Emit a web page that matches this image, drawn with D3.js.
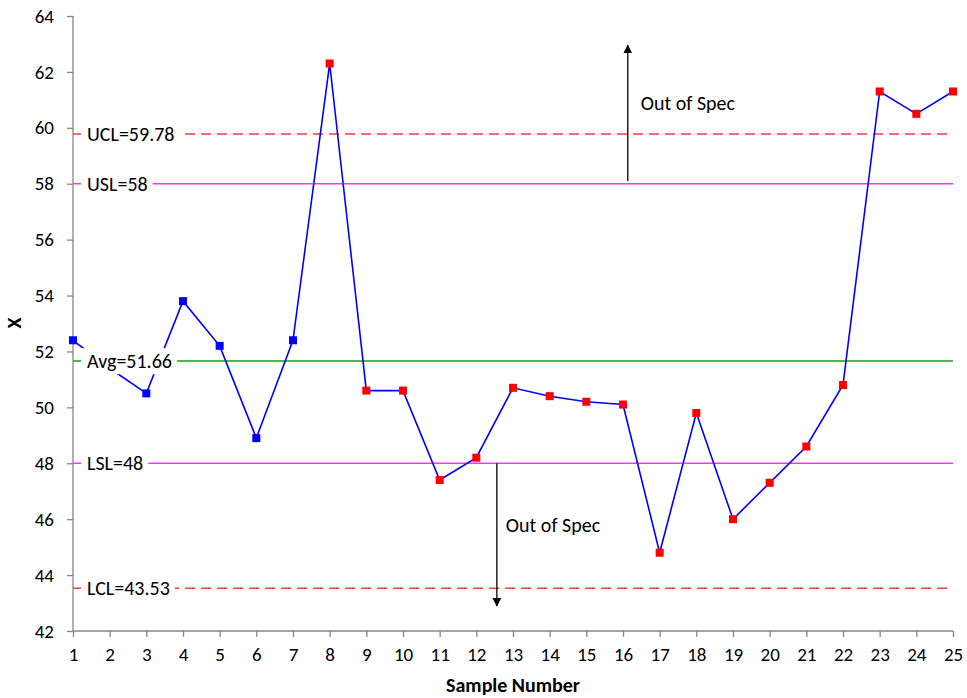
<!DOCTYPE html>
<html><head><meta charset="utf-8">
<script src="https://cdn.jsdelivr.net/npm/d3@7"></script>
<style>
body{margin:0;background:#fff;}
svg text{font-family:Carlito,Lato,"Open Sans",sans-serif;}
</style></head>
<body><svg id="c" width="967" height="698"></svg>
<script>
const samples = d3.range(1, 26);
const values = [52.4, 51.4, 50.5, 53.8, 52.2, 48.9, 52.4, 62.3, 50.6, 50.6, 47.4, 48.2, 50.7, 50.4, 50.2, 50.1, 44.8, 49.8, 46.0, 47.3, 48.6, 50.8, 61.3, 60.5, 61.3];
const pointColors = ["blue","blue","blue","blue","blue","blue","blue","red","red","red","red","red","red","red","red","red","red","red","red","red","red","red","red","red","red"];
const yTicks = [42,44,46,48,50,52,54,56,58,60,62,64];
const limitNames = ["UCL=59.78","USL=58","Avg=51.66","LSL=48","LCL=43.53"];
const limitValues = [59.78, 58, 51.66, 48, 43.53];
const limitKinds = ["ctl","spec","avg","spec","ctl"];
const arrowX = [16.13, 12.56];
const arrowFrom = [58.1, 48];
const arrowTo = [62.95, 42.9];
const arrowText = ["Out of Spec","Out of Spec"];

const svg = d3.select("#c");
const x = d3.scaleLinear().domain([1,25]).range([73,953]);
const y = d3.scaleLinear().domain([42,64]).range([631,16]);
const col = {blue:"#0000FF", red:"#FF0000"};
const lstyle = {ctl:{c:"#FF3B3B",d:"10,6"}, spec:{c:"#FF33FF",d:null}, avg:{c:"#1A9A1A",d:null}};

svg.append("defs").append("marker").attr("id","ah").attr("viewBox","0 0 10 10")
  .attr("refX",9).attr("refY",5).attr("markerWidth",9).attr("markerHeight",10)
  .attr("markerUnits","userSpaceOnUse").attr("orient","auto")
  .append("path").attr("d","M0,0 L10,5 L0,10 z").attr("fill","#000");

// axes
const ya = svg.append("g").attr("transform","translate(73,0)")
  .call(d3.axisLeft(y).tickValues(yTicks).tickSize(6).tickPadding(13));
const xa = svg.append("g").attr("transform","translate(0,631)")
  .call(d3.axisBottom(x).tickValues(samples).tickSize(6).tickPadding(11));
[ya,xa].forEach(a=>{
  a.selectAll("path,line").attr("stroke","#868686").attr("stroke-width",1.3);
  a.selectAll("text").attr("font-size",19).attr("fill","#000");
});
ya.select(".domain").attr("d","M0,631V16");
xa.select(".domain").attr("d","M73,0H953");

// limit lines
limitValues.forEach((v,i)=>{
  const s = lstyle[limitKinds[i]];
  svg.append("line").attr("x1",x(1)).attr("x2",x(25)).attr("y1",y(v)).attr("y2",y(v))
    .attr("stroke",s.c).attr("stroke-width",1.6).attr("stroke-dasharray",s.d);
});

// arrows
arrowX.forEach((ax,i)=>{
  svg.append("line").attr("x1",x(ax)).attr("x2",x(ax)).attr("y1",y(arrowFrom[i])).attr("y2",y(arrowTo[i]))
    .attr("stroke","#000").attr("stroke-width",1.3).attr("marker-end","url(#ah)");
});
svg.append("text").attr("x",x(arrowX[0])+13).attr("y",y(60.62)).attr("font-size",20).text(arrowText[0]);
svg.append("text").attr("x",x(arrowX[1])+9).attr("y",y(45.55)).attr("font-size",20).text(arrowText[1]);

// series
const line = d3.line().x((d,i)=>x(samples[i])).y(d=>y(d));
svg.append("path").datum(values).attr("d",line).attr("fill","none").attr("stroke","#0000FF").attr("stroke-width",1.6);
svg.selectAll("rect.pt").data(values).enter().append("rect").attr("class","pt")
  .attr("x",(d,i)=>x(samples[i])-4).attr("y",d=>y(d)-4).attr("width",8).attr("height",8)
  .attr("fill",(d,i)=>col[pointColors[i]]);

// limit labels
limitValues.forEach((v,i)=>{
  const g = svg.append("g");
  const t = g.append("text").attr("x",87).attr("y",y(v)).attr("dy","0.36em").attr("font-size",20).text(limitNames[i]);
  const bb = t.node().getBBox();
  g.insert("rect","text").attr("x",bb.x-6).attr("y",bb.y-1).attr("width",bb.width+11).attr("height",bb.height+2).attr("fill","#fff");
});

// axis titles
svg.append("text").attr("x",513).attr("y",692).attr("text-anchor","middle").attr("font-size",20).attr("font-weight","bold").text("Sample Number");
svg.append("text").attr("transform","translate(21,323) rotate(-90)").attr("text-anchor","middle").attr("font-size",20).attr("font-weight","bold").text("X");
</script></body></html>
